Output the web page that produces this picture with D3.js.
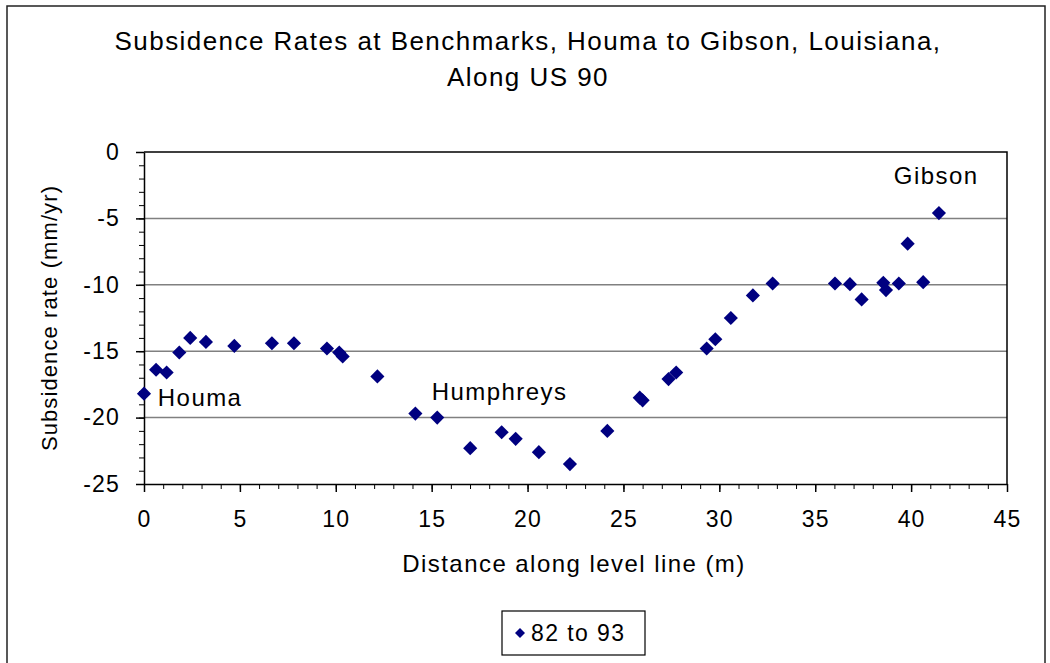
<!DOCTYPE html>
<html>
<head>
<meta charset="utf-8">
<script src="https://cdn.jsdelivr.net/npm/d3@7"></script>
<style>
  body { margin: 0; background: #fff; }
  text { font-family: Arial, "Liberation Sans", sans-serif; fill: #000; }
</style>
</head>
<body>
<script>
// Chart data
var distance = [0, 0.63, 1.18, 1.84, 2.41, 3.23, 4.71, 6.67, 7.82, 9.54, 10.18, 10.36,
    12.17, 14.15, 15.29, 17.01, 18.65, 19.38, 20.59, 22.21, 24.16, 25.85, 26.0,
    27.35, 27.75, 29.34, 29.79, 30.6, 31.75, 32.78, 36.03, 36.81, 37.42, 38.55,
    38.69, 39.36, 39.82, 40.63, 41.45];
var rate = [-18.2, -16.4, -16.6, -15.1, -14.0, -14.3, -14.6, -14.4, -14.4, -14.8, -15.1, -15.4,
    -16.9, -19.7, -20.0, -22.3, -21.1, -21.6, -22.6, -23.5, -21.0, -18.5, -18.7,
    -17.1, -16.6, -14.8, -14.1, -12.5, -10.8, -9.9, -9.9, -9.95, -11.1, -9.85,
    -10.4, -9.9, -6.9, -9.8, -4.6];
var xTicks = [0, 5, 10, 15, 20, 25, 30, 35, 40, 45];
var yTicks = [0, -5, -10, -15, -20, -25];
var placeNames = ["Houma", "Humphreys", "Gibson"];
var placeX = [0.72, 15.0, 39.1];
var placeY = [-19.1, -18.7, -2.4];
var seriesName = "82 to 93";

var width = 1050, height = 663;
var plot = {left: 144, right: 1007, top: 152, bottom: 484};
var navy = "#000080";
var fontFam = "Arial, 'Liberation Sans', sans-serif";

var svg = d3.select("body").append("svg")
    .attr("width", width).attr("height", height);

// outer frame
svg.append("rect")
    .attr("x", 7).attr("y", 6).attr("width", 1038).attr("height", 680)
    .attr("fill", "none").attr("stroke", "#222").attr("stroke-width", 1.5);

var x = d3.scaleLinear().domain([0, 45]).range([plot.left, plot.right]);
var y = d3.scaleLinear().domain([-25, 0]).range([plot.bottom, plot.top]);

// title
svg.append("text").attr("x", 528).attr("y", 50)
    .attr("text-anchor", "middle").attr("font-size", 26).attr("letter-spacing", 1.45)
    .text("Subsidence Rates at Benchmarks, Houma to Gibson, Louisiana,");
svg.append("text").attr("x", 528).attr("y", 86)
    .attr("text-anchor", "middle").attr("font-size", 26).attr("letter-spacing", 1.45)
    .text("Along US 90");

// gridlines
svg.append("g").selectAll("line").data(yTicks.filter(function(d) { return d != 0 && d != -25; }))
    .enter().append("line")
    .attr("x1", plot.left).attr("x2", plot.right)
    .attr("y1", function(d) { return y(d); }).attr("y2", function(d) { return y(d); })
    .attr("stroke", "#808080").attr("stroke-width", 1.5);

// plot frame top + right
svg.append("path")
    .attr("d", "M" + plot.left + "," + plot.top + "H" + plot.right + "V" + plot.bottom)
    .attr("fill", "none").attr("stroke", "#000").attr("stroke-width", 1.5);

// minor ticks
var minorX = d3.range(0, 46, 1), minorY = d3.range(-25, 1, 1);
svg.append("g").attr("transform", "translate(0," + plot.bottom + ")")
    .call(d3.axisBottom(x).tickValues(minorX).tickSize(5).tickFormat(""))
    .call(function(g) { g.select(".domain").remove(); });
svg.append("g").attr("transform", "translate(" + plot.left + ",0)")
    .call(d3.axisLeft(y).tickValues(minorY).tickSize(5).tickFormat(""))
    .call(function(g) { g.select(".domain").remove(); });

// main axes
var xAxis = svg.append("g").attr("transform", "translate(0," + plot.bottom + ")")
    .call(d3.axisBottom(x).tickValues(xTicks).tickSize(8).tickSizeOuter(0).tickPadding(19));
var yAxis = svg.append("g").attr("transform", "translate(" + plot.left + ",0)")
    .call(d3.axisLeft(y).tickValues(yTicks).tickSize(8).tickSizeOuter(0).tickPadding(16));
[xAxis, yAxis].forEach(function(g) {
    g.selectAll("path, line").attr("stroke", "#000").attr("stroke-width", 1.5);
    g.selectAll("text").attr("font-size", 23).attr("letter-spacing", 1.2)
        .style("font-family", fontFam).attr("fill", "#000");
});
yAxis.selectAll("text").text(function(d) { return d == 0 ? "0" : "-" + Math.abs(d); });

// axis titles
svg.append("text").attr("x", 574).attr("y", 572)
    .attr("text-anchor", "middle").attr("font-size", 24).attr("letter-spacing", 1.45)
    .text("Distance along level line (m)");
svg.append("text")
    .attr("transform", "translate(57,318) rotate(-90)")
    .attr("text-anchor", "middle").attr("font-size", 22).attr("letter-spacing", 1.1)
    .text("Subsidence rate (mm/yr)");

// points
var diamond = d3.symbol().type(d3.symbolSquare).size(100);
svg.append("g").selectAll("path").data(distance).enter().append("path")
    .attr("d", diamond)
    .attr("transform", function(d, i) { return "translate(" + x(d) + "," + y(rate[i]) + ") rotate(45)"; })
    .attr("fill", navy);

// place labels
svg.append("g").selectAll("text").data(placeNames).enter().append("text")
    .attr("x", function(d, i) { return x(placeX[i]); })
    .attr("y", function(d, i) { return y(placeY[i]); })
    .attr("font-size", 24).attr("letter-spacing", 1.45)
    .text(function(d) { return d; });

// legend
var legend = svg.append("g");
legend.append("rect").attr("x", 502).attr("y", 611).attr("width", 143).attr("height", 44)
    .attr("fill", "#fff").attr("stroke", "#000").attr("stroke-width", 1.2);
legend.append("path").attr("d", d3.symbol().type(d3.symbolSquare).size(50))
    .attr("transform", "translate(520,633) rotate(45)").attr("fill", navy);
legend.append("text").attr("x", 531).attr("y", 641)
    .attr("font-size", 23).attr("letter-spacing", 1.4)
    .text(seriesName);
</script>
</body>
</html>
